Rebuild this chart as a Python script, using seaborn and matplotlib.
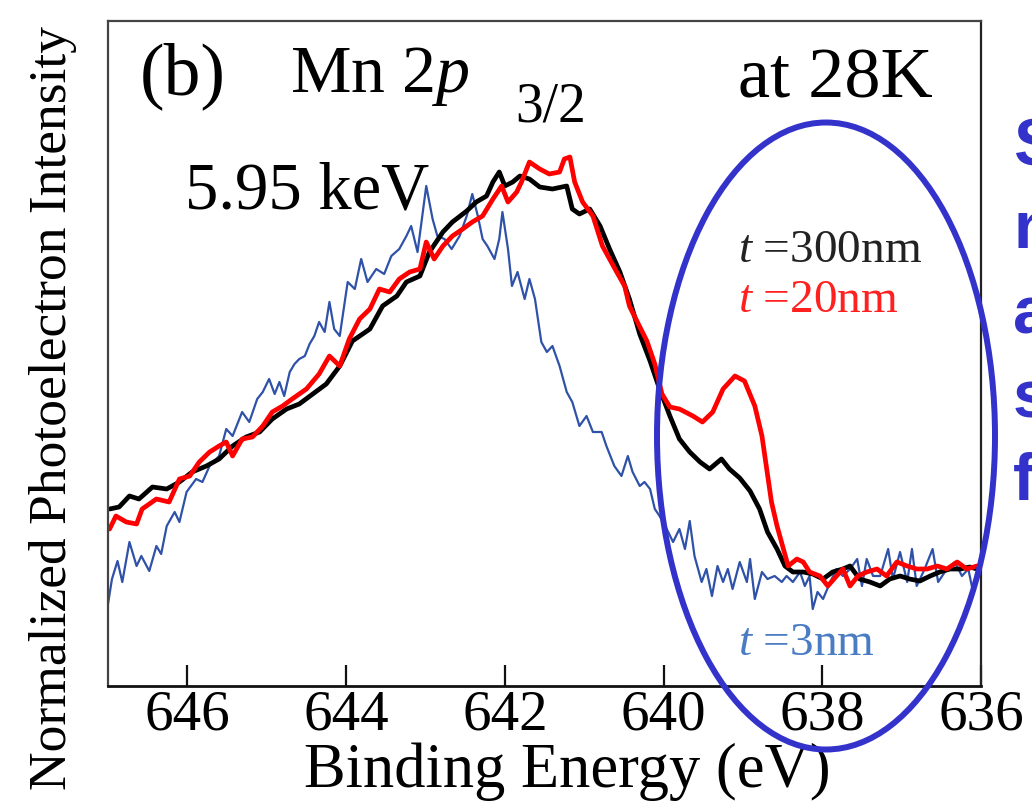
import matplotlib
matplotlib.use("Agg")
import matplotlib.pyplot as plt
from matplotlib.patches import Ellipse
import pandas as pd
import seaborn as sns

# ---- Mn 2p3/2 HAXPES spectra (hv = 5.95 keV, 28 K) ----
energy_300nm = [646.98, 646.86, 646.73, 646.61, 646.44, 646.26, 646.10, 645.94, 645.76, 645.60,
                645.43, 645.26, 645.09, 644.93, 644.75, 644.59, 644.42, 644.25, 644.08, 643.92,
                643.70, 643.54, 643.36, 643.24, 643.07, 642.95, 642.78, 642.66, 642.48, 642.36,
                642.23, 642.15, 642.07, 642.00, 641.90, 641.81, 641.69, 641.56, 641.40, 641.22,
                641.15, 641.06, 640.93, 640.80, 640.68, 640.55, 640.43, 640.30, 640.17, 640.05,
                639.92, 639.80, 639.67, 639.54, 639.42, 639.27, 639.17, 639.04, 638.91, 638.79,
                638.69, 638.57, 638.47, 638.37, 638.24, 638.12, 637.99, 637.87, 637.74, 637.65,
                637.53, 637.40, 637.27, 637.15, 637.02, 636.90, 636.77, 636.64, 636.52, 636.39,
                636.26, 636.14, 636.05]
intensity_300nm = [177, 179, 190, 187, 199, 197, 204, 214, 220, 227,
                   240, 249, 254, 267, 277, 282, 292, 302, 320, 345,
                   357, 380, 390, 404, 410, 434, 454, 464, 475, 484,
                   490, 504, 514, 500, 504, 510, 507, 499, 497, 500,
                   477, 472, 477, 460, 437, 414, 387, 352, 325, 297,
                   270, 247, 234, 224, 217, 227, 217, 208, 195, 177,
                   154, 137, 120, 114, 114, 112, 107, 114, 117, 120,
                   107, 104, 100, 107, 110, 107, 105, 110, 114, 117,
                   117, 119, 117]

energy_20nm = [646.98, 646.90, 646.77, 646.64, 646.57, 646.39, 646.23, 646.10, 645.97, 645.85,
               645.72, 645.60, 645.51, 645.43, 645.31, 645.18, 645.05, 644.93, 644.80, 644.68,
               644.50, 644.34, 644.21, 644.08, 643.96, 643.83, 643.70, 643.58, 643.45, 643.33,
               643.20, 643.07, 642.99, 642.89, 642.78, 642.66, 642.53, 642.41, 642.28, 642.15,
               642.04, 641.96, 641.85, 641.79, 641.69, 641.56, 641.44, 641.31, 641.25, 641.18,
               641.12, 641.02, 640.89, 640.77, 640.68, 640.59, 640.49, 640.43, 640.33, 640.21,
               640.11, 640.02, 639.92, 639.80, 639.63, 639.51, 639.38, 639.25, 639.10, 638.98,
               638.85, 638.76, 638.70, 638.64, 638.57, 638.50, 638.43, 638.32, 638.24, 638.16,
               638.03, 637.93, 637.82, 637.74, 637.65, 637.55, 637.44, 637.31, 637.19, 637.06,
               636.93, 636.81, 636.68, 636.55, 636.43, 636.30, 636.18, 636.05, 635.97]
intensity_20nm = [157, 170, 164, 162, 177, 187, 184, 207, 210, 224,
                  234, 240, 244, 230, 247, 249, 260, 274, 280, 287,
                  297, 312, 330, 320, 347, 367, 377, 397, 394, 407,
                  414, 417, 444, 427, 440, 450, 457, 464, 470, 487,
                  500, 484, 494, 504, 524, 517, 512, 514, 527, 529,
                  504, 484, 470, 440, 427, 414, 400, 380, 364, 345,
                  322, 292, 279, 277, 270, 264, 274, 297, 310, 305,
                  280, 250, 217, 184, 160, 140, 120, 127, 124, 114,
                  110, 100, 110, 117, 100, 110, 114, 117, 110, 124,
                  120, 117, 117, 120, 117, 124, 117, 120, 117]

energy_3nm = [647.01, 646.95, 646.88, 646.82, 646.73, 646.64, 646.58, 646.48, 646.39, 646.33,
              646.26, 646.16, 646.10, 646.01, 645.89, 645.81, 645.72, 645.60, 645.51, 645.43,
              645.31, 645.22, 645.12, 645.05, 644.97, 644.90, 644.84, 644.78, 644.71, 644.65,
              644.59, 644.52, 644.46, 644.40, 644.34, 644.27, 644.21, 644.15, 644.08, 643.98,
              643.89, 643.81, 643.73, 643.62, 643.52, 643.43, 643.33, 643.24, 643.18, 643.10,
              642.99, 642.91, 642.85, 642.76, 642.67, 642.57, 642.48, 642.41, 642.34, 642.28,
              642.22, 642.13, 642.07, 642.03, 641.96, 641.91, 641.84, 641.75, 641.69, 641.62,
              641.54, 641.47, 641.40, 641.31, 641.22, 641.15, 641.06, 640.97, 640.89, 640.78,
              640.72, 640.62, 640.53, 640.45, 640.39, 640.30, 640.24, 640.17, 640.11, 640.05,
              639.96, 639.88, 639.80, 639.73, 639.67, 639.61, 639.52, 639.46, 639.39, 639.32,
              639.25, 639.19, 639.13, 639.04, 638.95, 638.91, 638.85, 638.76, 638.69, 638.60,
              638.51, 638.45, 638.37, 638.28, 638.22, 638.16, 638.12, 638.06, 637.99, 637.90,
              637.82, 637.74, 637.65, 637.56, 637.50, 637.44, 637.36, 637.27, 637.17, 637.11,
              637.02, 636.93, 636.87, 636.81, 636.71, 636.61, 636.54, 636.43, 636.33, 636.24,
              636.16, 636.10, 636.04]
intensity_3nm = [77, 107, 125, 104, 144, 120, 130, 115, 140, 132,
                 160, 174, 164, 194, 207, 204, 220, 230, 257, 250,
                 274, 264, 287, 294, 307, 292, 304, 290, 314, 322,
                 327, 330, 342, 350, 364, 354, 384, 357, 350, 404,
                 397, 427, 404, 417, 412, 430, 437, 450, 460, 434,
                 500, 467, 450, 447, 437, 450, 470, 492, 470, 447,
                 440, 427, 447, 474, 437, 400, 414, 387, 407, 387,
                 344, 334, 340, 320, 294, 284, 260, 270, 254, 254,
                 240, 220, 210, 230, 214, 200, 204, 197, 177, 170,
                 157, 144, 157, 137, 165, 130, 104, 117, 90, 120,
                 104, 117, 97, 124, 104, 127, 87, 114, 107, 110,
                 104, 110, 104, 114, 100, 110, 77, 94, 87, 104,
                 117, 110, 117, 127, 100, 127, 110, 110, 137, 107,
                 134, 104, 137, 100, 117, 137, 104, 117, 124, 110,
                 117, 94, 114]

x_ticks = [646, 644, 642, 640, 638, 636]
side_letters = ["S", "n", "a", "s", "f"]

# ---- style ----
sns.set_theme(style="white")
plt.rcParams["font.family"] = ["Liberation Serif", "DejaVu Serif"]
plt.rcParams["mathtext.fontset"] = "custom"
plt.rcParams["mathtext.rm"] = "Liberation Serif"
plt.rcParams["mathtext.it"] = "Liberation Serif:italic"
plt.rcParams["text.color"] = "black"
plt.rcParams["axes.labelcolor"] = "black"
plt.rcParams["xtick.color"] = "black"

W, H = 1032, 812
fig = plt.figure(figsize=(W / 100, H / 100), dpi=100)
fig.patch.set_facecolor("white")
ax = fig.add_axes([108 / W, 1 - 687 / H, (981 - 108) / W, (687 - 22) / H])
ax.set_facecolor("white")


def fx(px):
    return px / W


def fy(py):
    return 1 - py / H


spectra = pd.concat([
    pd.DataFrame({"energy": energy_3nm, "intensity": intensity_3nm, "sample": "3nm"}),
    pd.DataFrame({"energy": energy_300nm, "intensity": intensity_300nm, "sample": "300nm"}),
    pd.DataFrame({"energy": energy_20nm, "intensity": intensity_20nm, "sample": "20nm"}),
])
styles = {"3nm": ("#2f52a8", 1.6), "300nm": ("#000000", 3.4), "20nm": ("#ff0000", 3.4)}
for name, (color, lw) in styles.items():
    sub = spectra[spectra["sample"] == name]
    sns.lineplot(data=sub, x="energy", y="intensity", ax=ax, color=color,
                 linewidth=lw, sort=False, estimator=None, legend=False)

ax.set_xlim(647.0, 636.0)
ax.set_ylim(0, 665)
ax.set_xticks(x_ticks)
ax.set_xticklabels([str(t) for t in x_ticks])
ax.set_yticks([])
ax.tick_params(axis="x", direction="in", length=15, width=1.6, color="#111111",
               labelsize=41, labelcolor="black", pad=2, bottom=True, top=False)

for side, sp in ax.spines.items():
    sp.set_visible(True)
    sp.set_color("#444444")
    sp.set_linewidth(1.6)
ax.spines["bottom"].set_color("#111111")
ax.spines["bottom"].set_linewidth(2.0)
ax.spines["right"].set_color("#222222")

ax.set_xlabel("Binding Energy (eV)", fontsize=45)
ax.xaxis.set_label_coords(0.526, -0.084)
ax.set_ylabel("Normalized Photoelectron Intensity", fontsize=38.5)
ax.yaxis.set_label_coords(-0.036, 0.42)

# ---- annotations ----
fig.text(fx(140), fy(94), "(b)", fontsize=53, va="baseline")
fig.text(fx(290), fy(92), "Mn 2$p$", fontsize=49, va="baseline")
fig.text(fx(515), fy(122), "3/2", fontsize=40, va="baseline")
fig.text(fx(738), fy(97), "at 28K", fontsize=52, va="baseline")
fig.text(fx(185), fy(208), "5.95 keV", fontsize=48, va="baseline")
fig.text(fx(738), fy(262), "$t$ =300nm", fontsize=34, va="baseline", color="#222222")
fig.text(fx(738), fy(312), "$t$ =20nm", fontsize=34, va="baseline", color="#ff2020")
fig.text(fx(738), fy(655), "$t$ =3nm", fontsize=34, va="baseline", color="#4a7cc4")

ring = Ellipse((fx(826), fy(437)), 338 / W, 627 / H, transform=fig.transFigure,
               fill=False, edgecolor="#3333cc", linewidth=4.3, clip_on=False, zorder=6)
ax.add_patch(ring)

for letter, base in zip(side_letters, [165, 248, 333, 418, 500]):
    fig.text(fx(1013), fy(base), letter, fontsize=48, fontweight="bold",
             family=["Liberation Sans", "DejaVu Sans"], color="#3333cc", va="baseline")

fig.savefig("out.png", dpi=100)
